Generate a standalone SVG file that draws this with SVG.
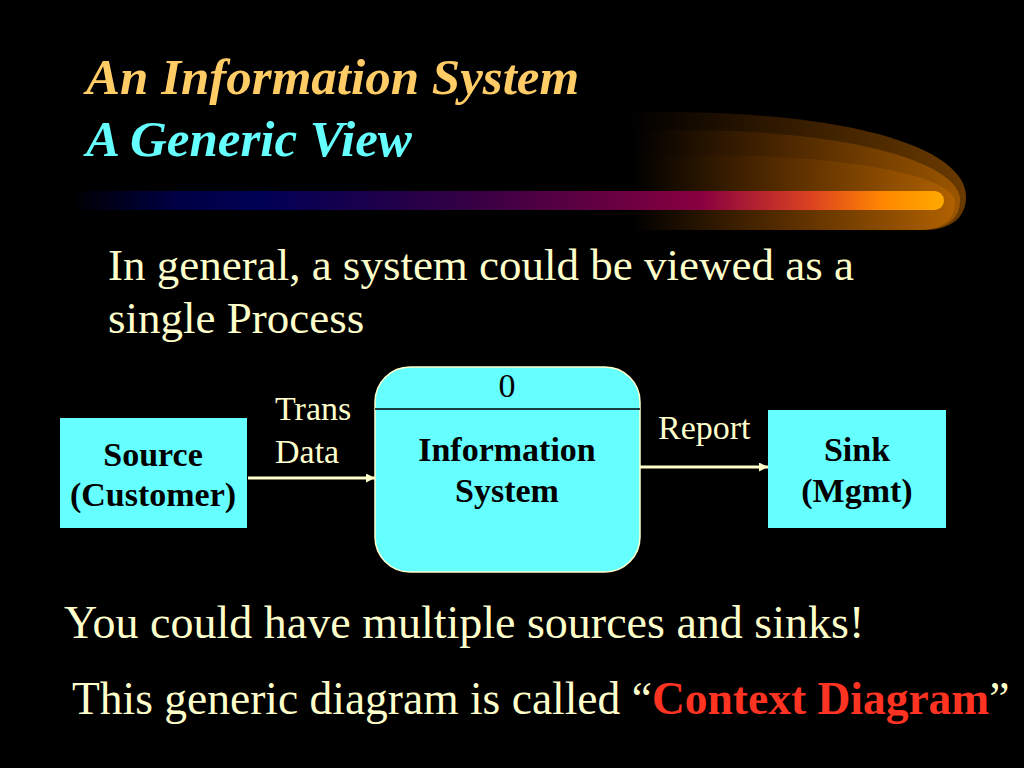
<svg xmlns="http://www.w3.org/2000/svg" width="1024" height="768" viewBox="0 0 1024 768">
<style>
.serif{font-family:"Liberation Serif","Times New Roman",serif}
.cream{fill:#FFFFCC}
.box{fill:#66FFFF}
.lbl{font-family:"Liberation Serif","Times New Roman",serif;font-size:34px;font-weight:bold;fill:#000;text-anchor:middle}
.flow{font-family:"Liberation Serif","Times New Roman",serif;font-size:34px;fill:#FFFFCC}
.conn{stroke:#FFFFCC;stroke-width:3;fill:none}
</style>
<defs>
<linearGradient id="bar" x1="70" y1="0" x2="945" y2="0" gradientUnits="userSpaceOnUse">
<stop offset="0" stop-color="#000000"/>
<stop offset="0.12" stop-color="#000044"/>
<stop offset="0.22" stop-color="#000055"/>
<stop offset="0.45" stop-color="#330044"/>
<stop offset="0.72" stop-color="#880040"/>
<stop offset="0.85" stop-color="#DD4420"/>
<stop offset="0.93" stop-color="#FF8800"/>
<stop offset="1" stop-color="#FFAA00"/>
</linearGradient>
<linearGradient id="glow" x1="632" y1="0" x2="965" y2="0" gradientUnits="userSpaceOnUse">
<stop offset="0" stop-color="#000000"/>
<stop offset="0.45" stop-color="#5A2E00"/>
<stop offset="1" stop-color="#C06A00"/>
</linearGradient>
<marker id="ah" viewBox="0 0 10 10" refX="10" refY="5" markerWidth="3" markerHeight="3" orient="auto">
<path d="M0,0 L10,5 L0,10 z" fill="#FFFFCC"/>
</marker>
</defs>
<rect width="1024" height="768" fill="#000"/>

<g id="decoration">
<path d="M632,112 L660,112 C860,112 966,150 966,197 C966,218 950,230 925,230 L632,230 z" fill="url(#glow)" opacity="0.55"/>
<path d="M632,130 L680,130 C860,130 960,165 960,200 C960,220 945,230 920,230 L632,230 z" fill="url(#glow)" opacity="0.6"/>
<path d="M632,155 L700,155 C870,155 955,180 955,202 C955,222 940,230 915,230 L632,230 z" fill="url(#glow)" opacity="0.7"/>
<rect x="70" y="191" width="874" height="19" rx="9.5" fill="url(#bar)"/>
</g>

<g id="title">
<text x="86" y="94" class="serif" font-size="51" font-style="italic" font-weight="bold" fill="#FFCC66">An Information System</text>
<text x="86" y="156" class="serif" font-size="51" font-style="italic" font-weight="bold" fill="#66FFFF">A Generic View</text>
</g>

<g id="intro">
<text x="108" y="280" class="serif cream" font-size="45">In general, a system could be viewed as a</text>
<text x="108" y="333" class="serif cream" font-size="45">single Process</text>
</g>

<g id="connectors">
<line x1="248" y1="478" x2="375" y2="478" class="conn" marker-end="url(#ah)"/>
<line x1="640" y1="467" x2="768" y2="467" class="conn" marker-end="url(#ah)"/>
<text x="275" y="420" class="flow">Trans</text>
<text x="275" y="463" class="flow">Data</text>
<text x="658" y="439" class="flow">Report</text>
</g>

<g id="source">
<rect x="60" y="418" width="187" height="110" class="box"/>
<text x="153" y="466" class="lbl">Source</text>
<text x="153" y="506" class="lbl">(Customer)</text>
</g>

<g id="process">
<rect x="375" y="367" width="265" height="205" rx="35" class="box" stroke="#FFFFCC" stroke-width="1.5"/>
<line x1="375" y1="409" x2="640" y2="409" stroke="#000" stroke-width="1.5"/>
<text x="507" y="397" class="serif" font-size="34" fill="#000" text-anchor="middle">0</text>
<text x="507" y="461" class="lbl">Information</text>
<text x="507" y="502" class="lbl">System</text>
</g>

<g id="sink">
<rect x="768" y="410" width="178" height="118" class="box"/>
<text x="857" y="461" class="lbl">Sink</text>
<text x="857" y="502" class="lbl">(Mgmt)</text>
</g>

<g id="notes">
<text x="64" y="638" class="serif cream" font-size="46">You could have multiple sources and sinks!</text>
<text x="72" y="714" class="serif cream" font-size="45.5">This generic diagram is called “<tspan font-weight="bold" fill="#FF3322">Context Diagram</tspan>”</text>
</g>
</svg>
